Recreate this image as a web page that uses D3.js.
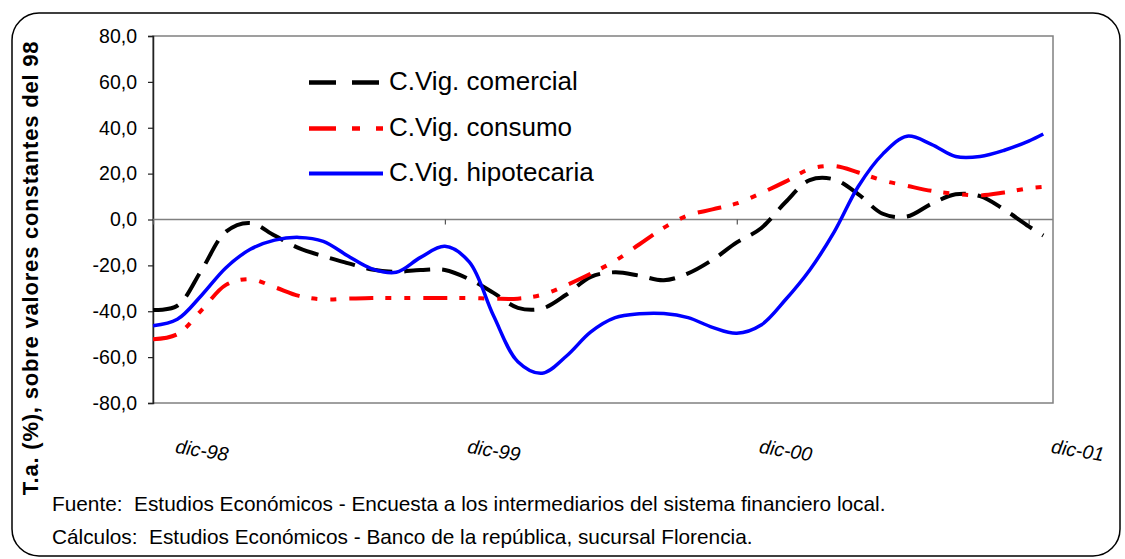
<!DOCTYPE html>
<html>
<head>
<meta charset="utf-8">
<script src="https://cdn.jsdelivr.net/npm/d3@7"></script>
<style>
  html, body { margin: 0; padding: 0; background: #fff; }
  svg { display: block; }
  text { font-family: "Liberation Sans", Arial, sans-serif; }
</style>
</head>
<body>
<svg id="chart" width="1125" height="559"></svg>
<script>
// ---- data ----
const meses = [0,1,2,3,4,5,6,7,8,9,10,11,12,13,14,15,16,17,18,19,20,21,22,23,24,25,26,27,28,29,30,31,32,33,34,35,36,36.6];
const comercial = [-39.5,-37.6,-22,-5.3,-1.5,-7,-12.5,-16,-19,-21.8,-22.8,-22,-22,-26,-32,-38.5,-38.8,-32.7,-25,-23,-24.5,-26.5,-23.5,-17.6,-10,-3.8,7.5,17.2,17.5,11,2.5,1.3,6.8,11,10.2,4.3,-3,-7];
const consumo = [-52.2,-50,-39.5,-28.5,-26,-29.5,-33.3,-34.8,-34.5,-34.2,-34.2,-34.2,-34.2,-34.2,-34.5,-34.5,-32.8,-28.6,-23.6,-18,-10.8,-3.6,1.8,4.4,7,11.5,16.5,22,23.3,20.5,17,14.7,12.5,11.2,10.5,11.8,13.6,14.2];
const hipotecaria = [-46.3,-43.5,-33,-21,-13,-9,-7.8,-9.5,-15.8,-21.5,-23,-16.5,-11.7,-18.5,-42,-62,-67,-59.5,-49,-42.8,-41.1,-41,-42.8,-47,-49.6,-46,-35,-22,-5.5,14.5,28.5,36.3,32.8,27.5,27.5,30.2,34.2,37.3];
const seriesNames = ["C.Vig. comercial", "C.Vig. consumo", "C.Vig. hipotecaria"];
const tickMeses = [0, 12, 24, 36];
const tickLabels = ["dic-98", "dic-99", "dic-00", "dic-01"];
const yTicks = [-80,-60,-40,-20,0,20,40,60,80];
const yTitle = "T.a. (%), sobre valores constantes del 98";
const fuente = "Fuente:  Estudios Económicos - Encuesta a los intermediarios del sistema financiero local.";
const calculos = "Cálculos:  Estudios Económicos - Banco de la república, sucursal Florencia.";

// ---- layout ----
const svg = d3.select("#chart");
const plot = {left: 153, right: 1053, top: 36, bottom: 403};
const x = d3.scaleLinear().domain([0, 37]).range([plot.left, plot.right]);
const y = d3.scaleLinear().domain([-80, 80]).range([plot.bottom, plot.top]);
const loc = d3.formatLocale({decimal: ",", thousands: ".", grouping: [3], currency: ["$", ""], minus: "-"});
const fmt = loc.format(".1f");

// outer frame
svg.append("rect").attr("x", 12).attr("y", 13).attr("width", 1108).attr("height", 543)
  .attr("rx", 27).attr("ry", 27).attr("fill", "#fff").attr("stroke", "#000").attr("stroke-width", 1.5);

// plot area border
svg.append("rect").attr("x", plot.left).attr("y", plot.top)
  .attr("width", plot.right - plot.left).attr("height", plot.bottom - plot.top)
  .attr("fill", "#fff").attr("stroke", "#808080").attr("stroke-width", 1.5);

// y axis
const yAxis = d3.axisLeft(y).tickValues(yTicks).tickFormat(fmt).tickSize(5).tickPadding(11);
const gy = svg.append("g").attr("transform", `translate(${plot.left},0)`).call(yAxis);
gy.select(".domain").attr("stroke", "#222").attr("stroke-width", 1.5);
gy.selectAll(".tick line").attr("stroke", "#222").attr("stroke-width", 1.2);
gy.selectAll(".tick text").attr("font-size", 19.5).attr("fill", "#000")
  .attr("font-family", "Liberation Sans, Arial, sans-serif");

// x axis on the zero line
const xAxis = d3.axisBottom(x).tickValues(tickMeses).tickFormat("").tickSize(5);
const gx = svg.append("g").attr("transform", `translate(0,${y(0)})`).call(xAxis);
gx.select(".domain").attr("stroke", "#808080").attr("stroke-width", 1.5).attr("d", `M${plot.left},0H${plot.right}`);
gx.selectAll(".tick line").attr("stroke", "#555").attr("stroke-width", 1.2);

// x labels (rotated, italic, at bottom)
svg.append("g").selectAll("text").data(tickMeses).join("text")
  .attr("transform", (d) => `translate(${x(d) + 48},${457}) rotate(9)`)
  .attr("text-anchor", "middle")
  .attr("font-size", 19.5)
  .attr("font-style", "italic")
  .attr("fill", "#000")
  .text((d, i) => tickLabels[i]);

// y title
svg.append("text")
  .attr("transform", `translate(38,268) rotate(-90)`)
  .attr("text-anchor", "middle")
  .attr("font-size", 22)
  .attr("letter-spacing", 0.8)
  .attr("font-weight", "bold")
  .attr("fill", "#000")
  .text(yTitle);

// lines
const styles = [
  {data: comercial, color: "#000000", width: 4, dash: "26,12"},
  {data: consumo, color: "#FF0000", width: 4, dash: "24,12,6,13,6,13"},
  {data: hipotecaria, color: "#0000FF", width: 3.5, dash: null}
];
const line = d3.line().x((d) => x(d[0])).y((d) => y(d[1])).curve(d3.curveCatmullRom.alpha(0.5));
styles.forEach((s) => {
  svg.append("path")
    .datum(meses.map((m, i) => [m, s.data[i]]))
    .attr("d", line)
    .attr("fill", "none")
    .attr("stroke", s.color)
    .attr("stroke-width", s.width)
    .attr("stroke-dasharray", s.dash)
    .attr("stroke-linejoin", "round");
});

// legend
const legY = [82.5, 128.5, 173.5];
const leg = svg.append("g");
styles.forEach((s, i) => {
  leg.append("line").attr("x1", 309).attr("x2", 383).attr("y1", legY[i]).attr("y2", legY[i])
    .attr("stroke", s.color).attr("stroke-width", s.width + 0.5)
    .attr("stroke-dasharray", i === 0 ? "27,16" : (i === 1 ? "27,16,8,16" : null));
  leg.append("text").attr("x", 389).attr("y", legY[i] + 7)
    .attr("font-size", 26).attr("fill", "#000").text(seriesNames[i]);
});

// footer
svg.append("text").attr("x", 52).attr("y", 510.5).attr("font-size", 20.8)
  .style("white-space", "pre").attr("fill", "#000").text(fuente);
svg.append("text").attr("x", 52).attr("y", 544).attr("font-size", 20.8)
  .style("white-space", "pre").attr("fill", "#000").text(calculos);
</script>
</body>
</html>
